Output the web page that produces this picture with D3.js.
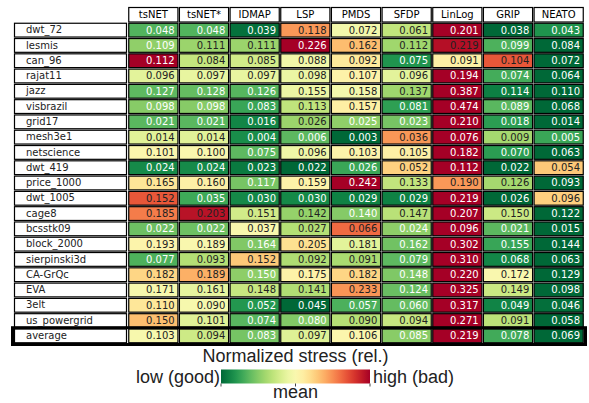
<head>
	<meta charset="utf-8">
	<script src="https://d3js.org/d3.v7.min.js"></script>
	<style>
		body { margin: 0; background: #fff; }
		.cell text { font: 10px "DejaVu Sans"; }
		.hdr text { font: 10px "DejaVu Sans"; }
		.legend text { font: 18px "Liberation Sans"; fill: #222; }
	</style>
</head>
<body>

<svg width="589" height="403" id="chart"></svg>

<script>

	var methods = ["tsNET", "tsNET*", "IDMAP", "LSP", "PMDS", "SFDP", "LinLog", "GRIP", "NEATO"];
	var boldMethods = ["tsNET", "tsNET*"];

	var graphs = ["dwt_72", "lesmis", "can_96", "rajat11", "jazz", "visbrazil", "grid17", "mesh3e1",
		"netscience", "dwt_419", "price_1000", "dwt_1005", "cage8", "bcsstk09", "block_2000",
		"sierpinski3d", "CA-GrQc", "EVA", "3elt", "us_powergrid"];

	// one row per graph, one value per method
	var stress = [
		[0.048, 0.048, 0.039, 0.118, 0.072, 0.061, 0.201, 0.038, 0.043],
		[0.109, 0.111, 0.111, 0.226, 0.162, 0.112, 0.219, 0.099, 0.084],
		[0.112, 0.084, 0.085, 0.088, 0.092, 0.075, 0.091, 0.104, 0.072],
		[0.096, 0.097, 0.097, 0.098, 0.107, 0.096, 0.194, 0.074, 0.064],
		[0.127, 0.128, 0.126, 0.155, 0.158, 0.137, 0.387, 0.114, 0.110],
		[0.098, 0.098, 0.083, 0.113, 0.157, 0.081, 0.474, 0.089, 0.068],
		[0.021, 0.021, 0.016, 0.026, 0.025, 0.023, 0.210, 0.018, 0.014],
		[0.014, 0.014, 0.004, 0.006, 0.003, 0.036, 0.076, 0.009, 0.005],
		[0.101, 0.100, 0.075, 0.096, 0.103, 0.105, 0.182, 0.070, 0.063],
		[0.024, 0.024, 0.023, 0.022, 0.026, 0.052, 0.112, 0.022, 0.054],
		[0.165, 0.160, 0.117, 0.159, 0.242, 0.133, 0.190, 0.126, 0.093],
		[0.152, 0.035, 0.030, 0.030, 0.029, 0.029, 0.219, 0.026, 0.096],
		[0.185, 0.203, 0.151, 0.142, 0.140, 0.147, 0.207, 0.150, 0.122],
		[0.022, 0.022, 0.037, 0.027, 0.066, 0.024, 0.096, 0.021, 0.015],
		[0.193, 0.189, 0.164, 0.205, 0.181, 0.162, 0.302, 0.155, 0.144],
		[0.077, 0.093, 0.152, 0.092, 0.091, 0.079, 0.310, 0.068, 0.063],
		[0.182, 0.189, 0.150, 0.175, 0.182, 0.148, 0.220, 0.172, 0.129],
		[0.171, 0.161, 0.148, 0.141, 0.233, 0.124, 0.325, 0.149, 0.098],
		[0.110, 0.090, 0.052, 0.045, 0.057, 0.060, 0.317, 0.049, 0.046],
		[0.150, 0.101, 0.074, 0.080, 0.090, 0.094, 0.271, 0.091, 0.058]
	];

	var average = [0.103, 0.094, 0.083, 0.097, 0.106, 0.085, 0.219, 0.078, 0.069];

	var legendTitle = "Normalized stress (rel.)",
		legendLow = "low (good)",
		legendHigh = "high (bad)",
		legendMid = "mean";

	var rows = graphs.map((g, i) => ({name: g, values: stress[i]}))
		.concat([{name: "average", values: average}]);

	var svg = d3.select("#chart");

	var labelLeft = 14,
		labelRight = 127,
		headerTop = 7;

	var x = d3.scaleBand()
		.domain(methods)
		.range([128, 584]);

	var y = d3.scaleBand()
		.domain(rows.map(d => d.name))
		.range([22.5, 343.5]);

	// colour relative to the row mean: green below, red above
	function rowScale(vals) {
		var mean = d3.mean(vals),
			lo = Math.log(d3.min(vals) / mean),
			hi = Math.log(d3.max(vals) / mean);
		return function(v) {
			var r = Math.log(v / mean);
			return r < 0 ? -r / lo : r / hi;
		};
	}

	var color = s => d3.interpolateRdYlGn(0.5 - 0.5 * s);

	// header
	var hdr = svg.append("g").attr("class", "hdr")
		.selectAll("g")
		.data(methods)
		.enter().append("g");

	hdr.append("rect")
		.attr("x", d => x(d) + 0.75)
		.attr("y", headerTop + 0.5)
		.attr("width", x.bandwidth() - 1.5)
		.attr("height", y.range()[0] - headerTop - 1)
		.attr("fill", "#fff")
		.attr("stroke", "#000")
		.attr("stroke-width", 1.2);

	hdr.append("text")
		.attr("x", d => x(d) + x.bandwidth() / 2)
		.attr("y", headerTop + 11.3)
		.attr("text-anchor", "middle")
		.attr("font-weight", d => boldMethods.includes(d) ? "bold" : "normal")
		.text(d => d);

	// rows
	var row = svg.selectAll("g.row")
		.data(rows)
		.enter().append("g")
		.attr("class", "row cell")
		.attr("transform", d => "translate(0," + y(d.name) + ")");

	row.append("rect")
		.attr("x", labelLeft + 0.5)
		.attr("y", 0.75)
		.attr("width", labelRight - labelLeft - 1)
		.attr("height", y.bandwidth() - 1.5)
		.attr("fill", "#fff")
		.attr("stroke", "#000")
		.attr("stroke-width", 1.2);

	row.append("text")
		.attr("x", 26)
		.attr("y", y.bandwidth() / 2 + 3.2)
		.attr("fill", "#222")
		.text(d => d.name);

	var cells = row.selectAll("g.c")
		.data(d => {
			var sc = rowScale(d.values);
			return d.values.map((v, i) => ({m: methods[i], v: v, s: sc(v)}));
		})
		.enter().append("g")
		.attr("class", "c");

	cells.append("rect")
		.attr("x", d => x(d.m) + 0.75)
		.attr("y", 0.75)
		.attr("width", x.bandwidth() - 1.5)
		.attr("height", y.bandwidth() - 1.5)
		.attr("fill", d => color(d.s))
		.attr("stroke", "#000")
		.attr("stroke-width", 1.2);

	cells.append("text")
		.attr("x", d => x(d.m) + x.bandwidth() - 4)
		.attr("y", y.bandwidth() / 2 + 3.4)
		.attr("text-anchor", "end")
		.attr("fill", d => (d.s < -0.45 || d.s > 0.999) ? "#fff" : "#222")
		.text(d => d.v.toFixed(3));

	// thick frame around the average row
	svg.append("rect")
		.attr("x", 12.5)
		.attr("y", y("average") - 0.5)
		.attr("width", 573)
		.attr("height", y.bandwidth() + 1.5)
		.attr("fill", "none")
		.attr("stroke", "#000")
		.attr("stroke-width", 3);

	// colour bar legend
	var bar = {x0: 221, x1: 370, y0: 369.5, y1: 383.5};

	var grad = svg.append("defs").append("linearGradient")
		.attr("id", "cbar");

	grad.selectAll("stop")
		.data(d3.range(0, 1.0001, 0.05))
		.enter().append("stop")
		.attr("offset", d => d)
		.attr("stop-color", d => color(d * 2 - 1));

	var legend = svg.append("g").attr("class", "legend");

	legend.append("rect")
		.attr("x", bar.x0)
		.attr("y", bar.y0)
		.attr("width", bar.x1 - bar.x0)
		.attr("height", bar.y1 - bar.y0)
		.attr("fill", "url(#cbar)");

	var barX = d3.scaleLinear().domain([-1, 1]).range([bar.x0, bar.x1]);

	legend.selectAll("line.tick")
		.data([-1, 0, 1])
		.enter().append("line")
		.attr("class", "tick")
		.attr("x1", d => barX(d))
		.attr("x2", d => barX(d))
		.attr("y1", bar.y1)
		.attr("y2", bar.y1 + 3)
		.attr("stroke", "#444")
		.attr("stroke-width", 1);

	legend.append("text")
		.attr("x", barX(0))
		.attr("y", 361.5)
		.attr("text-anchor", "middle")
		.text(legendTitle);

	legend.append("text")
		.attr("x", bar.x0 - 1)
		.attr("y", 383)
		.attr("text-anchor", "end")
		.text(legendLow);

	legend.append("text")
		.attr("x", bar.x1 + 3)
		.attr("y", 383)
		.text(legendHigh);

	legend.append("text")
		.attr("x", barX(0))
		.attr("y", 398)
		.attr("text-anchor", "middle")
		.text(legendMid);

</script>
</body>
